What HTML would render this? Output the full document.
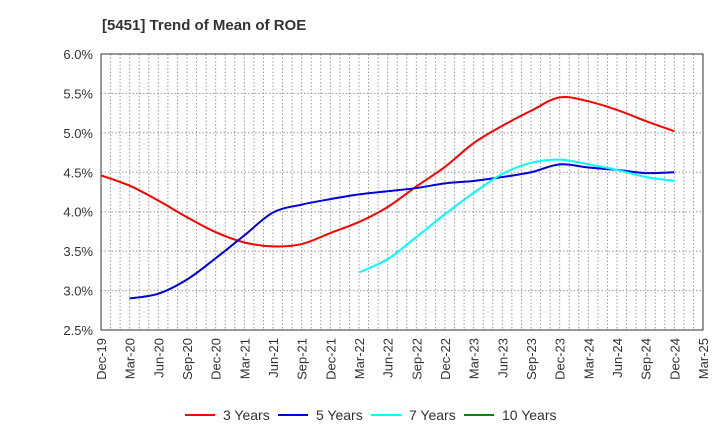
<!DOCTYPE html>
<html><head><meta charset="utf-8"><style>
body{margin:0;background:#fff;font-family:"Liberation Sans",sans-serif}
</style></head><body>
<svg id="chart" width="720" height="440" xmlns="http://www.w3.org/2000/svg" font-family="Liberation Sans, sans-serif">
<text x="102" y="30" font-size="15" font-weight="bold" fill="#333">[5451]  Trend of Mean of ROE</text>
<g id="grid"></g><g id="axes"></g><g id="series"></g><g id="legend"></g>
</svg>
<script>
const xLabels=["Dec-19","Mar-20","Jun-20","Sep-20","Dec-20","Mar-21","Jun-21","Sep-21","Dec-21","Mar-22","Jun-22","Sep-22","Dec-22","Mar-23","Jun-23","Sep-23","Dec-23","Mar-24","Jun-24","Sep-24","Dec-24","Mar-25"];
const yTicks=[2.5,3.0,3.5,4.0,4.5,5.0,5.5,6.0];
const seriesNames=["3 Years","5 Years","7 Years","10 Years"];
const seriesColors=["#ff0000","#0000dd","#00ffff","#008800"];
const seriesStart=[0,1,9,0];
const y3=[4.46,4.33,4.14,3.93,3.74,3.61,3.56,3.59,3.73,3.87,4.06,4.32,4.57,4.87,5.09,5.28,5.45,5.40,5.29,5.15,5.02];
const y5=[2.90,2.96,3.14,3.41,3.70,3.99,4.09,4.16,4.22,4.26,4.30,4.36,4.39,4.44,4.50,4.60,4.56,4.53,4.49,4.50];
const y7=[3.23,3.40,3.68,3.97,4.24,4.48,4.62,4.66,4.60,4.53,4.44,4.39];
const y10=[];
const L=101,R=703,T=54,B=330;
const NS="http://www.w3.org/2000/svg";
const xs=i=>L+(R-L)*i/(xLabels.length-1);
const ys=v=>B-(v-2.5)/3.5*(B-T);
function mk(p,tag,a){const e=document.createElementNS(NS,tag);for(const k in a)e.setAttribute(k,a[k]);p.appendChild(e);return e;}
const grid=document.getElementById('grid'),axes=document.getElementById('axes'),ser=document.getElementById('series'),leg=document.getElementById('legend');
const months=(xLabels.length-1)*3;
for(let m=1;m<months;m++){const x=L+(R-L)*m/months;const g=mk(grid,'line',{x1:x,x2:x,y1:T,y2:B,stroke:'#999','stroke-dasharray':'1.5,2','stroke-width':1});

}
yTicks.forEach(v=>{const y=ys(v);const g=mk(grid,'line',{x1:L,x2:R,y1:y,y2:y,stroke:'#999','stroke-dasharray':'1.5,2','stroke-width':1});


const t=mk(axes,'text',{x:L-8,y:y+5,'text-anchor':'end','font-size':13,fill:'#333'});t.textContent=v.toFixed(1)+'%';

});
xLabels.forEach((s,i)=>{const x=xs(i);const t=mk(axes,'text',{transform:`translate(${x+5},${B+8}) rotate(-90)`,'text-anchor':'end','font-size':13,fill:'#333'});t.textContent=s;

});
const fr=mk(axes,'rect',{x:L,y:T,width:R-L,height:B-T,fill:'none',stroke:'#333','stroke-width':1});


const data=[y3,y5,y7,y10];
function smooth(pts){if(pts.length<2)return '';let d=`M${pts[0][0]},${pts[0][1]}`;for(let i=0;i<pts.length-1;i++){const p0=pts[i-1]||pts[i],p1=pts[i],p2=pts[i+1],p3=pts[i+2]||p2;const c1=[p1[0]+(p2[0]-p0[0])/6,p1[1]+(p2[1]-p0[1])/6],c2=[p2[0]-(p3[0]-p1[0])/6,p2[1]-(p3[1]-p1[1])/6];d+=` C${c1[0]},${c1[1]} ${c2[0]},${c2[1]} ${p2[0]},${p2[1]}`;}return d;}
data.forEach((arr,k)=>{if(!arr.length)return;const pts=arr.map((v,i)=>[xs(i+seriesStart[k]),ys(v)]);const p=mk(ser,'path',{d:smooth(pts),fill:'none',stroke:seriesColors[k],'stroke-width':2});

});
const lx=[185,278,371,464];
seriesNames.forEach((n,k)=>{const g=mk(leg,'g',{});


mk(g,'line',{x1:lx[k],x2:lx[k]+30,y1:415,y2:415,stroke:seriesColors[k],'stroke-width':2});const t=mk(g,'text',{x:lx[k]+38,y:420,'font-size':14,fill:'#333'});t.textContent=n;});
</script>
</body></html>
